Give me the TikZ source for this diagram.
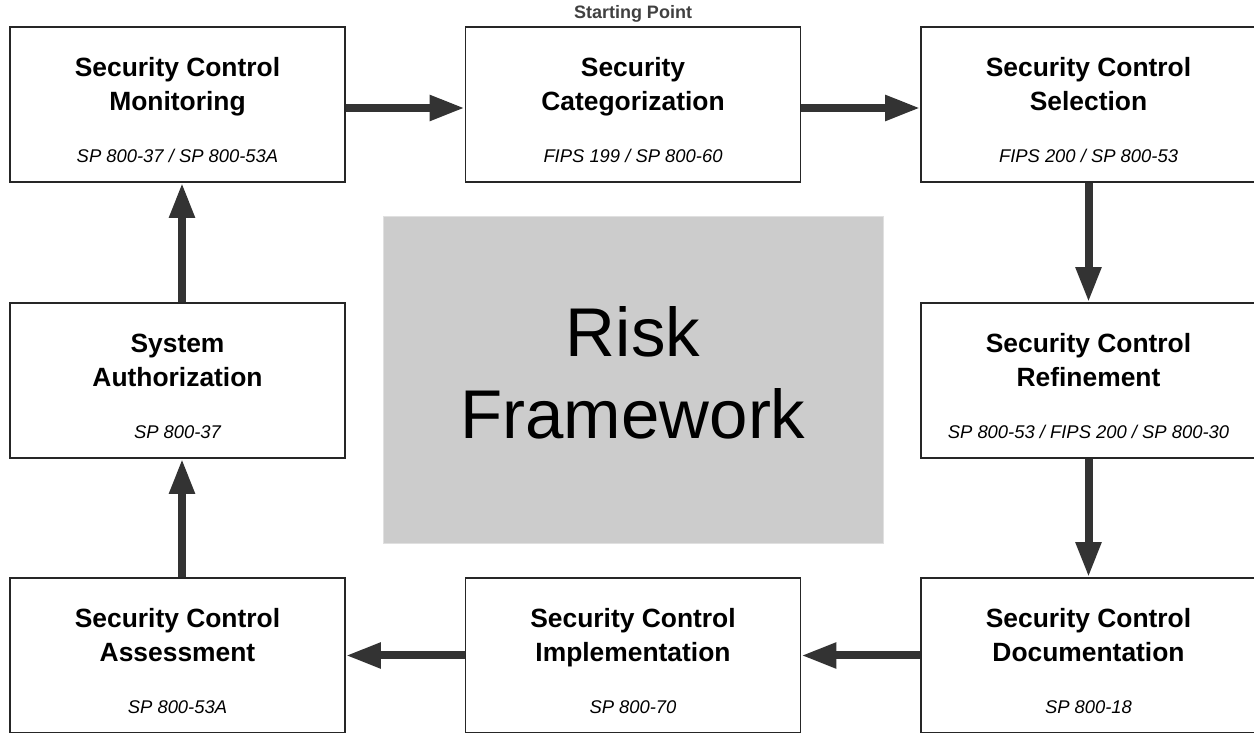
\documentclass[tikz,border=0pt]{standalone}
\usepackage{fontspec}
\setmainfont{Liberation Sans}
\usetikzlibrary{arrows.meta}

\newcommand{\pubref}[1]{{\mdseries\itshape\fontsize{9.2}{11}\selectfont #1}}

\begin{document}
\begin{tikzpicture}
[x=0.5pt,y=0.5pt,%
  stage/.style={draw=black!85,line width=0.8pt,fill=white,inner sep=0pt,%
    minimum width=167.5pt,minimum height=77.5pt,align=center,%
    font=\bfseries\fontsize{13.2}{17}\selectfont,text height=58.5pt,text depth=0pt},%
  core/.style={draw=black!12,fill=black!20,inner sep=0pt,%
    minimum width=250pt,minimum height=163.5pt,align=center,%
    font=\fontsize{34.5}{41}\selectfont,text height=59.5pt,text depth=0pt},%
  flow/.style={draw=black!80,line width=4pt,-{Triangle[length=17.5pt,width=12pt]}}]
\useasboundingbox (0,0) rectangle (1254,733);

% the cycle
\node[stage] (mon) at (177.5,628.5) {Security Control\\Monitoring\\[9pt]\pubref{SP 800-37 / SP 800-53A}};
\node[stage] (cat) at (633,628.5) {Security\\Categorization\\[9pt]\pubref{FIPS 199 / SP 800-60}};
\node[stage] (sel) at (1088.5,628.5) {Security Control\\Selection\\[9pt]\pubref{FIPS 200 / SP 800-53}};
\node[stage] (aut) at (177.5,352.5) {System\\Authorization\\[9pt]\pubref{SP 800-37}};
\node[stage] (rfn) at (1088.5,352.5) {Security Control\\Refinement\\[9pt]\pubref{SP 800-53 / FIPS 200 / SP 800-30}};
\node[stage] (asm) at (177.5,77.5) {Security Control\\Assessment\\[9pt]\pubref{SP 800-53A}};
\node[stage] (imp) at (633,77.5) {Security Control\\Implementation\\[9pt]\pubref{SP 800-70}};
\node[stage] (doc) at (1088.5,77.5) {Security Control\\Documentation\\[9pt]\pubref{SP 800-18}};

\node[core] (risk) at (633,353.5) {Risk\\Framework};

\node[anchor=base,text=black!75,font=\bfseries\fontsize{9}{10}\selectfont] (start)
  at ([yshift=4pt]cat.north) {Starting Point};

% arrows
\draw[flow] ([yshift=-1.75pt]mon.east) -- ([yshift=-1.75pt]cat.west);
\draw[flow] ([yshift=-1.75pt]cat.east) -- ([yshift=-1.75pt]sel.west);
\draw[flow] (sel.south) -- (rfn.north);
\draw[flow] (rfn.south) -- (doc.north);
\draw[flow] (doc.west) -- (imp.east);
\draw[flow] (imp.west) -- (asm.east);
\draw[flow] ([xshift=2.25pt]asm.north) -- ([xshift=2.25pt]aut.south);
\draw[flow] ([xshift=2.25pt]aut.north) -- ([xshift=2.25pt]mon.south);
\end{tikzpicture}
\end{document}
